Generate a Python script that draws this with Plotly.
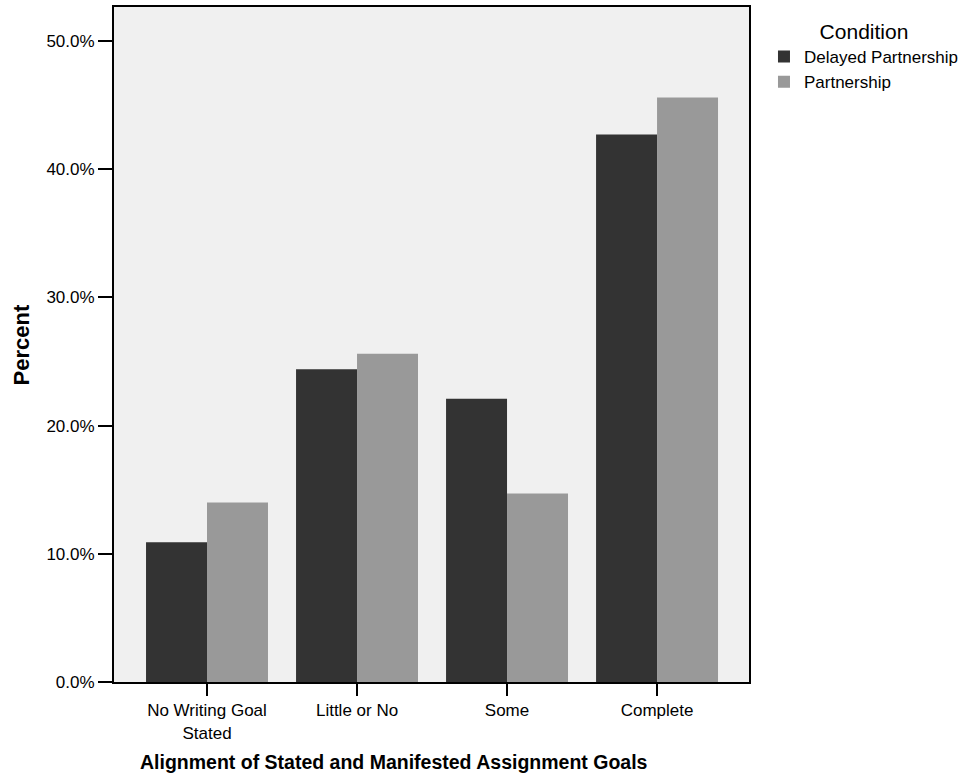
import plotly.graph_objects as go

categories = ["No Writing Goal<br>Stated", "Little or No", "Some", "Complete"]
delayed = [10.9, 24.4, 22.1, 42.7]
partnership = [14.0, 25.6, 14.7, 45.6]
series_names = ["Delayed Partnership", "Partnership"]
y_ticks = [0, 10, 20, 30, 40, 50]
y_tick_labels = ["0.0%", "10.0%", "20.0%", "30.0%", "40.0%", "50.0%"]

FONT = "Liberation Sans, Arial, sans-serif"

fig = go.Figure()
fig.add_trace(go.Bar(x=categories, y=delayed, name=series_names[0],
                     marker=dict(color="#333333", line=dict(width=0))))
fig.add_trace(go.Bar(x=categories, y=partnership, name=series_names[1],
                     marker=dict(color="#999999", line=dict(width=0))))

fig.update_layout(
    width=966, height=779,
    margin=dict(l=114, r=217, t=7, b=97, autoexpand=False),
    paper_bgcolor="white", plot_bgcolor="#f0f0f0",
    barmode="group", bargap=0.187, bargroupgap=0,
    font=dict(family=FONT, size=17, color="black"),
    showlegend=True,
    legend=dict(
        x=1.0236, xanchor="left", xref="paper", y=0.993, yanchor="top",
        title=dict(text="Condition", side="top center", font=dict(size=21)),
        font=dict(size=17), itemwidth=30, bgcolor="rgba(0,0,0,0)",
        tracegroupgap=0,
    ),
    xaxis=dict(
        range=[-0.62, 3.613], showgrid=False, zeroline=False,
        showline=True, linecolor="black", linewidth=2, mirror=True,
        ticks="outside", ticklen=12, tickwidth=2, tickcolor="black",
        tickfont=dict(size=17),
    ),
    yaxis=dict(
        range=[0, 52.65], showgrid=False, zeroline=False,
        showline=True, linecolor="black", linewidth=2, mirror=True,
        ticks="outside", ticklen=14, tickwidth=2, tickcolor="black",
        tickvals=y_ticks, ticktext=y_tick_labels,
        tickfont=dict(size=17),
    ),
    annotations=[
        dict(text="<b>Alignment of Stated and Manifested Assignment Goals</b>",
             xref="paper", yref="paper", x=0.441, y=-0.1185,
             xanchor="center", yanchor="middle", showarrow=False,
             font=dict(size=19.5)),
        dict(text="<b>Percent</b>", textangle=-90,
             xref="paper", yref="paper", x=-0.145, y=0.5,
             xanchor="center", yanchor="middle", showarrow=False,
             font=dict(size=22)),
    ],
)

fig.write_html("out.html",
               config={"displayModeBar": False},
               post_script="document.body.style.margin='0';document.body.style.overflow='hidden';")
